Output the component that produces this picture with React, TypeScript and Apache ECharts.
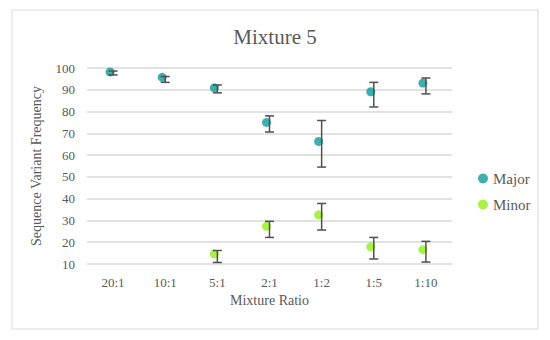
import React, { useEffect, useRef } from "react";
import * as echarts from "echarts";

const categories = ["20:1", "10:1", "5:1", "2:1", "1:2", "1:5", "1:10"];
const majorValues = [98.2, 95.7, 90.9, 75.0, 66.3, 89.1, 93.1];
const majorLow = [96.8, 93.4, 88.6, 70.6, 54.5, 82.1, 88.1];
const majorHigh = [98.6, 96.1, 92.2, 78.0, 75.9, 93.4, 95.4];
const minorValues: (number | null)[] = [null, null, 14.6, 27.3, 32.6, 17.9, 16.6];
const minorLow: (number | null)[] = [null, null, 10.7, 22.2, 25.6, 12.3, 10.9];
const minorHigh: (number | null)[] = [null, null, 16.2, 29.6, 37.8, 22.2, 20.4];

const FONT = "Liberation Serif";
const TEXT = "#595959";
const MAJOR_COLOR = "#0f9a98";
const MINOR_COLOR = "#93ee1c";

function errData(low: (number | null)[], high: (number | null)[]) {
  const out: number[][] = [];
  low.forEach((l, i) => {
    const h = high[i];
    if (l != null && h != null) out.push([i, l, h]);
  });
  return out;
}

function renderErr(params: any, api: any) {
  const i = api.value(0);
  const lo = api.coord([i, api.value(1)]);
  const hi = api.coord([i, api.value(2)]);
  const x = lo[0];
  const half = 4.5;
  const style = { stroke: "#505050", lineWidth: 1.5 };
  return {
    type: "group",
    children: [
      { type: "line", shape: { x1: x, y1: lo[1], x2: x, y2: hi[1] }, style },
      { type: "line", shape: { x1: x - half, y1: lo[1], x2: x + half, y2: lo[1] }, style },
      { type: "line", shape: { x1: x - half, y1: hi[1], x2: x + half, y2: hi[1] }, style },
    ],
  };
}

export default function App() {
  const ref = useRef<HTMLDivElement>(null);
  useEffect(() => {
    if (!ref.current) return;
    const chart = echarts.init(ref.current, undefined, { renderer: "svg" });
    chart.setOption({
      animation: false,
      backgroundColor: "#ffffff",
      textStyle: { fontFamily: FONT },
      title: {
        text: "Mixture 5",
        left: "center",
        top: 21,
        textStyle: { fontFamily: FONT, fontSize: 21, fontWeight: "normal", color: TEXT },
      },
      legend: {
        data: ["Major", "Minor"],
        orient: "vertical",
        left: 473,
        top: 166,
        itemGap: 11,
        itemWidth: 10,
        itemHeight: 10,
        icon: "circle",
        textStyle: { fontFamily: FONT, fontSize: 15, color: TEXT },
      },
      graphic: [
        {
          type: "rect",
          shape: { x: 12, y: 10, width: 526, height: 319 },
          style: { fill: "none", stroke: "#d9d9d9", lineWidth: 1 },
          silent: true,
        },
      ],
      grid: { left: 87, right: 98, top: 68, bottom: 76 },
      xAxis: {
        type: "category",
        data: categories,
        name: "Mixture Ratio",
        nameLocation: "middle",
        nameGap: 27,
        nameTextStyle: { fontFamily: FONT, fontSize: 14, color: TEXT },
        axisLine: { show: false },
        axisTick: { show: false },
        axisLabel: { fontFamily: FONT, fontSize: 13, color: TEXT, margin: 12, interval: 0 },
      },
      yAxis: {
        type: "value",
        min: 10,
        max: 100,
        interval: 10,
        name: "Sequence Variant Frequency",
        nameLocation: "middle",
        nameGap: 44,
        nameTextStyle: { fontFamily: FONT, fontSize: 14, color: TEXT },
        axisLabel: { fontFamily: FONT, fontSize: 13, color: TEXT, margin: 12 },
        splitLine: { lineStyle: { color: "#d9d9d9", width: 1.5 } },
      },
      series: [
        {
          name: "Major",
          type: "scatter",
          data: majorValues,
          symbol: "circle",
          symbolSize: 9,
          symbolOffset: [-3, 0],
          itemStyle: { color: MAJOR_COLOR },
          z: 3,
        },
        {
          name: "Minor",
          type: "scatter",
          data: minorValues,
          symbol: "circle",
          symbolSize: 9,
          symbolOffset: [-3, 0],
          itemStyle: { color: MINOR_COLOR },
          z: 3,
        },
        {
          name: "MajorErr",
          type: "custom",
          renderItem: renderErr,
          data: errData(majorLow, majorHigh),
          encode: { x: 0, y: [1, 2] },
          z: 4,
        },
        {
          name: "MinorErr",
          type: "custom",
          renderItem: renderErr,
          data: errData(minorLow, minorHigh),
          encode: { x: 0, y: [1, 2] },
          z: 4,
        },
      ],
    });
    return () => chart.dispose();
  }, []);
  return (
    <div
      ref={ref}
      style={{ position: "fixed", left: 0, top: 0, width: 550, height: 340 }}
    />
  );
}
